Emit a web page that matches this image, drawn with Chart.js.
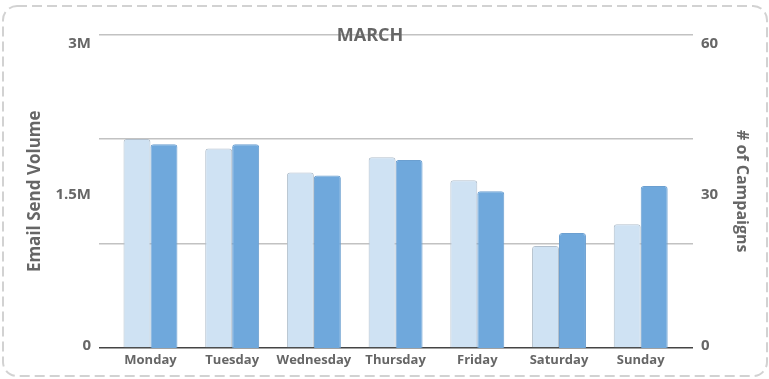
<!DOCTYPE html>
<html>
<head>
<meta charset="utf-8">
<script src="https://cdn.jsdelivr.net/npm/chart.js@4.4.1/dist/chart.umd.min.js"></script>
<style>
    html, body { margin: 0; padding: 0; background: #fff; }
    #wrap { position: relative; width: 769px; height: 379px; }
    #frame { position: absolute; left: 0; top: 0; }
    #chart { position: absolute; left: 0; top: 0; }
    #title {
        position: absolute; left: 300px; width: 140px; top: 23px;
        text-align: center; font: bold 18px 'Open Sans', sans-serif; color: #666;
        line-height: 22px;
    }
</style>
</head>
<body>
<div id="wrap">
    <svg id="frame" width="769" height="379">
        <rect x="3" y="6" width="764" height="370" rx="14" ry="14"
              fill="none" stroke="#d2d2d2" stroke-width="2" stroke-dasharray="10 5"/>
    </svg>
    <canvas id="chart" width="769" height="379"></canvas>
    <div id="title">MARCH</div>
</div>
<script>
    // Weekly send data
    const days = ['Monday', 'Tuesday', 'Wednesday', 'Thursday', 'Friday', 'Saturday', 'Sunday'];
    const sendVolume = [2000000, 1910000, 1680000, 1825000, 1605000, 975000, 1185000];
    const campaigns = [39, 39, 33, 36, 30, 22, 31];
    const volumeTicks = [0, 1500000, 3000000];
    const volumeLabels = ['0', '1.5M', '3M'];
    const campaignTicks = [0, 30, 60];

    const textColor = '#666';
    const tickFont = { family: 'Open Sans', size: 15, weight: 'bold' };

    Chart.defaults.font.family = 'Open Sans';
    Chart.defaults.color = textColor;

    // label axes sit a little inside the grid range (top label drops below its line)
    const labelRange = (max, topGap, bottomGap, px) => ({
        min: -bottomGap * max / px,
        max: max + topGap * max / px
    });
    const volLabelRange = labelRange(3000000, 9.5, 2, 302);
    const campLabelRange = labelRange(60, 9.5, 2, 302);

    new Chart(document.getElementById('chart'), {
        type: 'bar',
        data: {
            datasets: [{
                label: 'Email Send Volume',
                data: sendVolume.map((v, i) => ({ x: i, y: v })),
                yAxisID: 'yVolume',
                backgroundColor: '#cfe2f3',
                borderColor: '#b3c0cd',
                borderWidth: 1,
                borderRadius: { topLeft: 3, topRight: 3 },
                borderSkipped: 'bottom'
            }, {
                label: '# of Campaigns',
                data: campaigns.map((v, i) => ({ x: i, y: v })),
                yAxisID: 'yCampaigns',
                backgroundColor: '#6fa8dc',
                borderColor: '#6b9fd0',
                borderWidth: 1,
                borderRadius: { topLeft: 3, topRight: 3 },
                borderSkipped: 'bottom'
            }]
        },
        options: {
            responsive: false,
            animation: false,
            categoryPercentage: 0.66,
            barPercentage: 1,
            layout: { padding: { top: 34.5, left: 0, right: 0, bottom: 0 } },
            plugins: {
                legend: { display: false },
                tooltip: { enabled: false }
            },
            scales: {
                x: {
                    type: 'linear',
                    min: -0.63,
                    max: 6.64,
                    offset: false,
                    grid: { display: false },
                    border: { display: false },
                    afterBuildTicks: scale => {
                        scale.ticks = days.map((d, i) => ({ value: i }));
                    },
                    afterFit: scale => { scale.height = 31; },
                    ticks: {
                        autoSkip: false,
                        maxRotation: 0,
                        padding: -4,
                        font: { size: 13, weight: 'bold' },
                        callback: value => days[value]
                    }
                },
                yVolumeLabels: {
                    position: 'left',
                    min: volLabelRange.min,
                    max: volLabelRange.max,
                    afterFit: scale => { scale.width = 99; },
                    afterBuildTicks: scale => {
                        scale.ticks = volumeTicks.map(v => ({ value: v }));
                    },
                    border: { display: false },
                    grid: { display: false, drawTicks: false },
                    ticks: {
                        padding: 8,
                        font: tickFont,
                        callback: value => volumeLabels[volumeTicks.indexOf(value)]
                    },
                    title: {
                        display: true,
                        text: 'Email Send Volume',
                        font: { size: 17, weight: 'bold' },
                        padding: { top: 24.8, bottom: 0 }
                    }
                },
                yVolume: {
                    position: 'left',
                    min: 0,
                    max: 3000000,
                    afterFit: scale => { scale.width = 0; },
                    border: { display: false },
                    grid: {
                        drawTicks: false,
                        lineWidth: 1.5,
                        color: ctx => ctx.tick.value === 0 ? '#444' : '#c2c2c2'
                    },
                    ticks: { display: false, stepSize: 1000000 }
                },
                yCampaigns: {
                    display: false,
                    min: 0,
                    max: 60
                },
                yCampaignLabels: {
                    position: 'right',
                    min: campLabelRange.min,
                    max: campLabelRange.max,
                    afterFit: scale => { scale.width = 76; },
                    afterBuildTicks: scale => {
                        scale.ticks = campaignTicks.map(v => ({ value: v }));
                    },
                    border: { display: false },
                    grid: { display: false, drawTicks: false },
                    ticks: {
                        padding: 8,
                        font: tickFont
                    },
                    title: {
                        display: true,
                        text: '# of Campaigns',
                        font: { size: 16, weight: 'bold' },
                        padding: { top: 17.4, bottom: 0 }
                    }
                }
            }
        }
    });
</script>
</body>
</html>
